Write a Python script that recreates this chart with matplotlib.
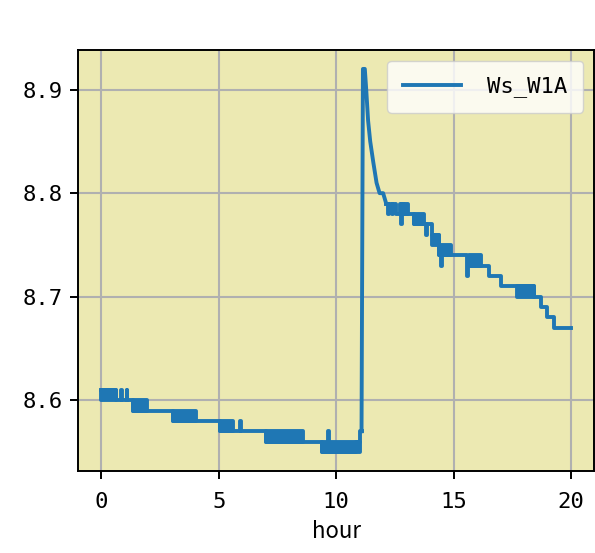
import matplotlib
matplotlib.use('Agg')
import matplotlib.pyplot as plt

# step trace before the jump (value holds until the next time)
pre_hours = [0.00, 0.64, 0.83, 0.87, 1.07, 1.11, 1.35, 3.06, 5.05, 5.91,
             5.95, 7.03, 9.40, 9.66, 9.70, 10.85, 11.00, 11.08]
pre_ws = [8.61, 8.60, 8.61, 8.60, 8.61, 8.60, 8.59, 8.58, 8.57, 8.58,
          8.57, 8.56, 8.55, 8.57, 8.55, 8.56, 8.57, 8.57]

# jump and decay, plain line
peak_hours = [11.08, 11.14, 11.22, 11.28, 11.36, 11.45, 11.58, 11.72, 11.85, 12.00, 12.13]
peak_ws = [8.57, 8.92, 8.92, 8.90, 8.87, 8.85, 8.83, 8.81, 8.80, 8.80, 8.79]

# step trace after the decay
post_hours = [12.13, 12.20, 12.26, 12.36, 12.42, 12.55, 12.70, 12.78, 12.82, 12.90,
              13.33, 13.76, 13.82, 13.86, 14.10, 14.39, 14.45, 14.49, 15.58, 15.63,
              16.52, 17.01, 17.72, 18.43, 18.71, 18.99, 19.28, 20.00]
post_ws = [8.79, 8.78, 8.79, 8.78, 8.79, 8.78, 8.79, 8.77, 8.79, 8.78,
           8.77, 8.77, 8.76, 8.77, 8.76, 8.74, 8.73, 8.74, 8.72, 8.73,
           8.72, 8.71, 8.71, 8.70, 8.69, 8.68, 8.67, 8.67]

# stretches where the sensor flickers between two adjacent levels
band_start = [0.00, 1.35, 3.06, 5.05, 7.03, 9.40, 12.90, 13.33, 14.10, 14.39, 15.67, 17.72]
band_end = [0.64, 1.94, 4.03, 5.60, 8.58, 11.03, 13.05, 13.76, 14.39, 14.89, 16.17, 18.43]
band_low = [8.60, 8.59, 8.58, 8.57, 8.56, 8.55, 8.78, 8.77, 8.75, 8.74, 8.73, 8.70]
band_high = [8.61, 8.60, 8.59, 8.58, 8.57, 8.56, 8.79, 8.78, 8.76, 8.75, 8.74, 8.71]

col = '#1f77b4'
lw = 2.8

plt.rcParams['font.family'] = ['DejaVu Sans Mono']
plt.rcParams['font.size'] = 16

fig = plt.figure(figsize=(5.95, 5.53), dpi=100)
ax = fig.add_axes([0.131, 0.148, 0.868, 0.762])
ax.set_facecolor('#ece9b2')

ax.plot(pre_hours, pre_ws, drawstyle='steps-post', color=col, lw=lw, label='Ws_W1A', zorder=3)
ax.plot(peak_hours, peak_ws, color=col, lw=lw, zorder=3)
ax.plot(post_hours, post_ws, drawstyle='steps-post', color=col, lw=lw, zorder=3)
for s, e, lo, hi in zip(band_start, band_end, band_low, band_high):
    ax.fill_between([s, e], [lo, lo], [hi, hi], facecolor=col, edgecolor=col,
                    lw=lw, zorder=3)

ax.set_xticks([0, 5, 10, 15, 20])
ax.set_yticks([8.6, 8.7, 8.8, 8.9])
ax.grid(True, color='#b0b0b0', lw=1.5)
ax.set_axisbelow(True)
ax.tick_params(length=6, width=1.4)
ax.tick_params(axis='y', pad=5)
ax.tick_params(axis='x', pad=9)
for sp in ax.spines.values():
    sp.set_linewidth(1.4)

ax.set_xlabel('hour', family=['Noto Sans CJK JP', 'DejaVu Sans'], fontsize=16, labelpad=6)
ax.legend(loc='upper right', handlelength=2.6, handletextpad=1.2, borderpad=0.7, fontsize=16)

fig.savefig('out.png', dpi=100)
